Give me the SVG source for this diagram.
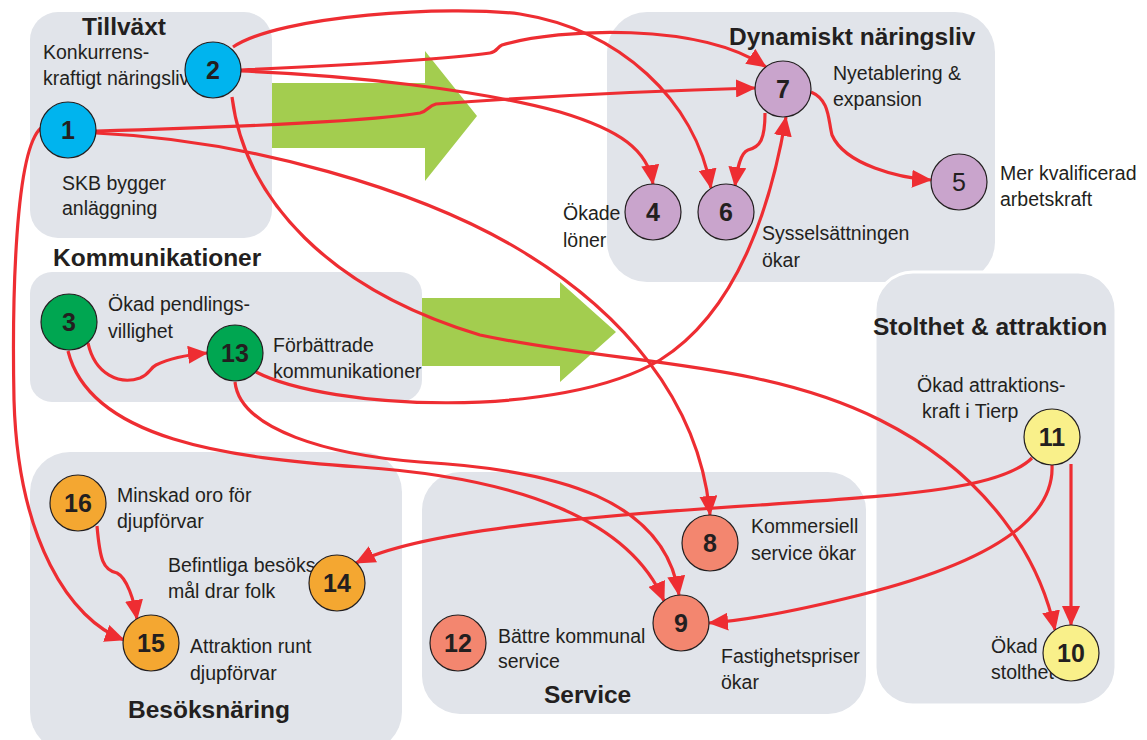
<svg xmlns="http://www.w3.org/2000/svg" width="1147" height="740" viewBox="0 0 1147 740">
<style>
.box{fill:#e1e4ea}
.garrow{fill:#a3cd4f}
.title{font-family:"Liberation Sans",Arial,sans-serif;font-weight:bold;font-size:24.5px;fill:#231f20}
.lbl{font-family:"Liberation Sans",Arial,sans-serif;font-size:19.5px;fill:#231f20}
.num{font-family:"Liberation Sans",Arial,sans-serif;font-weight:bold;font-size:25px;fill:#231f20;text-anchor:middle}
.numr{font-family:"Liberation Sans",Arial,sans-serif;font-size:25px;fill:#231f20;text-anchor:middle}
.n{stroke:#231f20;stroke-width:1.2}
.blue{fill:#00b4ee}
.green{fill:#00a651}
.purple{fill:#c9a4cc}
.salmon{fill:#f3866f}
.yellow{fill:#f9f08a}
.orange{fill:#f4a731}
.c{fill:none;stroke:#ee2d32;stroke-width:3.2;marker-end:url(#ah)}
</style>
<defs>
<marker id="ah" markerUnits="userSpaceOnUse" markerWidth="20" markerHeight="18" viewBox="0 0 20 18" refX="19" refY="9" orient="auto">
<path d="M0,0 L20,9 L0,18 z" fill="#ee2d32"/>
</marker>
</defs>
<rect width="1147" height="740" fill="#ffffff"/>
<g id="groups">
<rect class="box" x="30" y="12" width="242" height="226" rx="28"/>
<rect class="box" x="607" y="12" width="388" height="270" rx="40"/>
<rect class="box" x="30" y="272" width="392" height="130" rx="22"/>
<rect class="box" x="30" y="452" width="372" height="300" rx="40"/>
<rect class="box" x="422" y="472" width="444" height="242" rx="38"/>
<rect class="box" x="875" y="272" width="241" height="433" rx="38" stroke="#ffffff" stroke-width="3"/>
<text class="title" x="82" y="35">Tillväxt</text>
<text class="title" x="729" y="45">Dynamiskt näringsliv</text>
<text class="title" x="53" y="266">Kommunikationer</text>
<text class="title" x="873" y="335">Stolthet &amp; attraktion</text>
<text class="title" x="128" y="718">Besöksnäring</text>
<text class="title" x="544" y="703">Service</text>
</g>
<g id="big-arrows">
<polygon class="garrow" points="272,83 425,83 425,51 477,116 425,181 425,148 272,148"/>
<polygon class="garrow" points="422,298 560,298 560,282 616,332 560,382 560,366 422,366"/>
</g>
<g id="labels">
<text class="lbl" x="43" y="59">Konkurrens-</text>
<text class="lbl" x="43" y="85">kraftigt näringsliv</text>
<text class="lbl" x="62" y="190">SKB bygger</text>
<text class="lbl" x="62" y="215">anläggning</text>
<text class="lbl" x="833" y="80">Nyetablering &amp;</text>
<text class="lbl" x="833" y="106">expansion</text>
<text class="lbl" x="1000" y="180">Mer kvalificerad</text>
<text class="lbl" x="1000" y="206">arbetskraft</text>
<text class="lbl" x="563" y="220">Ökade</text>
<text class="lbl" x="563" y="247">löner</text>
<text class="lbl" x="762" y="240">Sysselsättningen</text>
<text class="lbl" x="762" y="267">ökar</text>
<text class="lbl" x="108" y="311">Ökad pendlings-</text>
<text class="lbl" x="108" y="338">villighet</text>
<text class="lbl" x="273" y="352">Förbättrade</text>
<text class="lbl" x="273" y="378">kommunikationer</text>
<text class="lbl" x="117" y="502">Minskad oro för</text>
<text class="lbl" x="117" y="528">djupförvar</text>
<text class="lbl" x="168" y="572">Befintliga besöks</text>
<text class="lbl" x="168" y="598">mål drar folk</text>
<text class="lbl" x="190" y="653">Attraktion runt</text>
<text class="lbl" x="190" y="680">djupförvar</text>
<text class="lbl" x="751" y="533">Kommersiell</text>
<text class="lbl" x="751" y="560">service ökar</text>
<text class="lbl" x="498" y="643">Bättre kommunal</text>
<text class="lbl" x="498" y="668">service</text>
<text class="lbl" x="721" y="663">Fastighetspriser</text>
<text class="lbl" x="721" y="689">ökar</text>
<text class="lbl" x="917" y="392">Ökad attraktions-</text>
<text class="lbl" x="922" y="418">kraft i Tierp</text>
<text class="lbl" x="991" y="653">Ökad</text>
<text class="lbl" x="991" y="679">stolthet</text>
</g>
<g id="connectors">
<path class="c" d="M96,131 C250,127 380,120 420,113 C428,111 428,106 436,104 C560,95 680,90 755,88"/>
<path class="c" d="M96,133 C250,140 420,190 520,250 C620,310 700,400 710,515"/>
<path class="c" d="M41,128 C15,150 12,300 14,400 C18,540 70,620 124,640"/>
<path class="c" d="M241,70 C350,65 440,60 490,53 C497,52 497,47 502,45 C560,28 700,22 766,67"/>
<path class="c" d="M233,47 C280,15 450,5 520,14 C620,30 695,100 711,188"/>
<path class="c" d="M240,71 C350,75 480,90 560,112 C620,130 648,150 653,184"/>
<path class="c" d="M232,97 C245,200 330,290 480,335 C620,365 760,360 880,420 C990,475 1040,560 1055,630"/>
<path class="c" d="M765,113 C765,140 760,147 748,150 C740,153 737,170 735,186"/>
<path class="c" d="M811,92 C830,100 828,120 832,135 C845,165 900,178 931,180"/>
<path class="c" d="M256,372 C330,410 560,420 660,360 C740,310 772,200 786,117"/>
<path class="c" d="M88,343 C95,375 120,385 140,378 C150,374 150,368 156,365 C170,358 185,355 207,353"/>
<path class="c" d="M68,351 C90,440 230,458 360,467 C520,478 630,520 664,601"/>
<path class="c" d="M235,382 C240,430 330,455 420,462 C560,470 665,500 679,595"/>
<path class="c" d="M1032,458 C1000,490 900,495 760,505 C600,515 420,530 356,563"/>
<path class="c" d="M1052,465 C1055,530 960,570 860,595 C800,610 750,620 709,623"/>
<path class="c" d="M1071,464 L1071,625"/>
<path class="c" d="M97,526 C100,560 103,570 117,573 C127,578 134,600 137,619"/>
</g>
<g id="node1"><circle class="n blue" cx="68" cy="130" r="28"/><text class="num" x="68" y="139">1</text></g>
<g id="node2"><circle class="n blue" cx="213" cy="70" r="28"/><text class="num" x="213" y="79">2</text></g>
<g id="node3"><circle class="n green" cx="69" cy="322" r="28"/><text class="num" x="69" y="331">3</text></g>
<g id="node13"><circle class="n green" cx="235" cy="353" r="28"/><text class="num" x="235" y="362">13</text></g>
<g id="node4"><circle class="n purple" cx="653" cy="212" r="28"/><text class="num" x="653" y="221">4</text></g>
<g id="node6"><circle class="n purple" cx="726" cy="212" r="28"/><text class="num" x="726" y="221">6</text></g>
<g id="node7"><circle class="n purple" cx="783" cy="89" r="28"/><text class="num" x="783" y="98">7</text></g>
<g id="node5"><circle class="n purple" cx="959" cy="182" r="28"/><text class="numr" x="959" y="191">5</text></g>
<g id="node8"><circle class="n salmon" cx="710" cy="543" r="28"/><text class="num" x="710" y="552">8</text></g>
<g id="node9"><circle class="n salmon" cx="681" cy="623" r="28"/><text class="num" x="681" y="632">9</text></g>
<g id="node12"><circle class="n salmon" cx="458" cy="643" r="28"/><text class="num" x="458" y="652">12</text></g>
<g id="node11"><circle class="n yellow" cx="1052" cy="437" r="28"/><text class="num" x="1052" y="446">11</text></g>
<g id="node10"><circle class="n yellow" cx="1071" cy="653" r="28"/><text class="num" x="1071" y="662">10</text></g>
<g id="node16"><circle class="n orange" cx="78" cy="503" r="28"/><text class="num" x="78" y="512">16</text></g>
<g id="node14"><circle class="n orange" cx="337" cy="583" r="28"/><text class="num" x="337" y="592">14</text></g>
<g id="node15"><circle class="n orange" cx="151" cy="643" r="28"/><text class="num" x="151" y="652">15</text></g>
</svg>
